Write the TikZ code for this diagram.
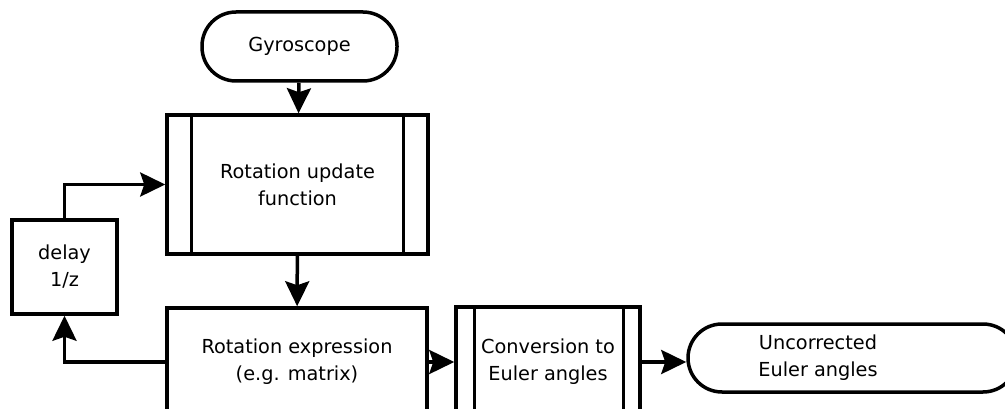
\documentclass[tikz,border=0pt]{standalone}
\usepackage{fontspec}
\setmainfont{DejaVu Sans}
\usetikzlibrary{arrows.meta}

\tikzset{
  box/.style={draw, line width=3.5pt, minimum width=#1, align=center, inner sep=0pt},
  term/.style={draw, line width=3.5pt, rounded corners=34pt, align=center, inner sep=0pt},
  arr/.style={line width=3.5pt, -{Stealth[length=25pt,width=24pt,inset=4pt]}},
  every node/.style={font=\fontsize{19.3}{27}\selectfont},
}

\begin{document}
\begin{tikzpicture}[x=1pt, y=-1pt]
\useasboundingbox (0,0) rectangle (1005,409);
\clip (0,0) rectangle (1005,409);

\node[term, minimum width=195pt, minimum height=69pt] (gyro) at (299.5,46.5) {Gyroscope};
\node[box=261pt, minimum height=139pt] (upd) at (297.5,184.5) {Rotation update\\function};
\node[box=260pt, minimum height=108pt] (expr) at (297,362) {Rotation expression\\(e.g. matrix)};
\node[box=184pt, minimum height=110pt] (conv) at (548,362) {Conversion to\\Euler angles};
\node[box=105pt, minimum height=94pt] (delay) at (64.5,267) {delay\\1/z};
\node[term, minimum width=329pt, minimum height=68pt] (out) at (852.5,358) {};
\node[align=center] (outtxt) at (818,358) {Uncorrected\\Euler angles};

%% bars of the two process boxes
\draw[line width=3pt] ([xshift=26pt]upd.north west) -- ([xshift=26pt]upd.south west);
\draw[line width=3pt] ([xshift=-26pt]upd.north east) -- ([xshift=-26pt]upd.south east);
\draw[line width=3pt] ([xshift=20pt]conv.north west) -- ([xshift=20pt]conv.south west);
\draw[line width=3pt] ([xshift=-18pt]conv.north east) -- ([xshift=-18pt]conv.south east);

\draw[arr] (gyro) -- (upd);
\draw[arr] (upd) -- (expr);
\draw[arr] (expr.east) -- (expr.east -| conv.west);
\draw[arr] (conv.east) -- (conv.east -| out.west);
\draw[arr] (expr.west) -| (delay.south); %%feedback
\draw[arr] (delay.north) |- (upd.west);
\end{tikzpicture}
\end{document}
